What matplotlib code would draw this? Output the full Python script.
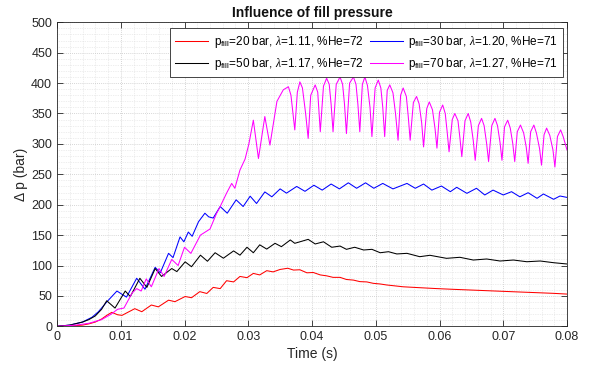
import matplotlib
matplotlib.use("Agg")
import matplotlib.pyplot as plt
from matplotlib.ticker import MultipleLocator

plt.rcParams['font.family'] = ['Liberation Sans', 'DejaVu Sans']
plt.rcParams['mathtext.fontset'] = 'custom'
plt.rcParams['mathtext.rm'] = 'Liberation Sans'
plt.rcParams['mathtext.it'] = 'Liberation Serif:italic'

title = "Influence of fill pressure"
xlabel = "Time (s)"
ylabel = "Δ p (bar)"
labels = [r"p$_{\mathrm{fill}}$=20 bar, $\it{\lambda}$=1.11, %He=72",
          r"p$_{\mathrm{fill}}$=30 bar, $\it{\lambda}$=1.20, %He=71",
          r"p$_{\mathrm{fill}}$=50 bar, $\it{\lambda}$=1.17, %He=72",
          r"p$_{\mathrm{fill}}$=70 bar, $\it{\lambda}$=1.27, %He=71"]

t_red = [0, .002, .004, .005, .006, .007, .0078, .0086, .0095, .0102,
         .0122, .0133, .0148, .0159, .0175, .0185, .0201, .0211, .0224, .0235,
         .0245, .0256, .0266, .0277, .0287, .0298, .0308, .0318, .0329, .0339,
         .0350, .0362, .0371, .0381, .0392, .0402, .0413, .0423, .0433, .0444,
         .0454, .0465, .0475, .0486, .0496, .0507, .0517, .0543, .0569, .0596,
         .0622, .0648, .0674, .0700, .0726, .0753, .0779, .0800]
v_red = [0, .5, 2, 4, 7, 12, 18, 23, 19, 18,
         29, 24, 35, 32, 43, 40.5, 49, 47, 57, 54,
         64, 62, 75, 73, 82, 80, 87, 84.5, 91.5, 89.5,
         93.5, 95.5, 92.5, 93, 88, 88.5, 84.5, 83, 80.5, 80.5,
         77, 76, 73.5, 73, 70.7, 69.6, 68, 65, 63.5, 62,
         60.8, 59.7, 58.6, 57.5, 56.4, 55.3, 54.2, 53]

t_blue = [0, .002, .004, .0055, .0065, .0078, .0094, .0109, .0125, .0138,
          .0154, .0162, .0175, .0182, .0193, .0199, .0206, .0212, .0222, .0232,
          .0238, .0245, .0256, .0267, .0281, .0292, .0303, .0313, .0326, .0337,
          .0350, .0360, .0376, .0389, .0403, .0416, .0430, .0443, .0457, .0470,
          .0484, .0497, .0511, .0527, .0549, .0562, .0575, .0588, .0603, .0617,
          .0627, .0643, .0658, .0671, .0684, .0700, .0713, .0726, .0739, .0753,
          .0763, .0779, .0789, .0800]
v_blue = [0, 2, 7, 15, 24, 40, 58, 48, 79, 61,
          97, 88, 120, 113, 147, 139, 155, 148, 172, 186,
          180, 178, 197, 186, 208, 197, 214, 202, 221, 213,
          226, 219, 230, 222, 232, 224, 234, 226, 236, 227,
          236, 227, 235, 226, 235, 227, 234, 224, 230.7, 221.4,
          228.6, 218.7, 227, 216, 224, 216, 221.4, 213, 219.7, 210.5,
          217.6, 208.9, 214.3, 212]

t_blk = [0, .002, .004, .005, .006, .007, .0078, .0091, .0107, .0115,
         .0130, .0141, .0154, .0164, .0180, .0188, .0201, .0211, .0225, .0236,
         .0248, .0261, .0277, .0287, .0298, .0308, .0318, .0329, .0342, .0352,
         .0366, .0373, .0394, .0405, .0418, .0431, .0444, .0454, .0467, .0481,
         .0494, .0507, .0520, .0533, .0549, .0569, .0585, .0611, .0632, .0653,
         .0674, .0695, .0716, .0737, .0758, .0779, .0800]
v_blk = [0, 2, 7, 11, 17, 28, 42, 30, 58, 49,
         79, 64, 95, 82, 95, 90, 106, 98, 117, 107,
         121, 112, 124, 117, 130, 121, 134, 127, 136.5, 131,
         142, 136.5, 143, 135.4, 139, 130, 132, 126.6, 130, 125.5,
         126.6, 121, 122.7, 119, 120, 114.5, 116.8, 111.8, 113.5, 109,
         110.7, 107.4, 109, 106.2, 107.4, 104.6, 102.5]

t_mag = [0, .003, .005, .007, .0085, .0095, .0105, .0118, .0125, .0132,
         .0140, .0148, .0160, .0168, .0180, .0190, .0200, .0210, .0225, .0240,
         .0250, .0256, .0266, .0274, .0279, .0287, .0295, .0301, .0308, .0316,
         .0326, .0334, .0345, .0355,
         .0360, .0363, .0367, .0373,
         .0377, .0381, .0385, .0390, .0394,
         .0398, .0405, .0409, .0413,
         .0418, .0423, .0427, .0430, .0433,
         .0438, .0444, .0448, .0451, .0454,
         .0459, .0465, .0469, .0472, .0475,
         .0479, .0483, .0487, .0491, .0494,
         .0499, .0504, .0508, .0511, .0514,
         .0518, .0522, .0527, .0531, .0535,
         .0539, .0543, .0548, .0551, .0554,
         .0559, .0564, .0568, .0572, .0575,
         .0580, .0584, .0589, .0593, .0596,
         .0600, .0605, .0609, .0612, .0615,
         .0620, .0624, .0629, .0632, .0635,
         .0640, .0645, .0649, .0653, .0656,
         .0661, .0666, .0670, .0674, .0677,
         .0682, .0687, .0691, .0695, .0698,
         .0702, .0707, .0711, .0715, .0718,
         .0722, .0727, .0732, .0736, .0739,
         .0743, .0748, .0752, .0757, .0760,
         .0764, .0768, .0773, .0778, .0781,
         .0785, .0790, .0794, .0800]
v_mag = [0, 2, 5, 11, 20, 28, 30, 55, 62, 58,
         78, 65, 95, 82, 110, 100, 130, 120, 150, 160,
         185, 197, 219, 235, 227, 257, 275, 300, 339, 276,
         345, 298, 370, 389,
         392, 394, 380, 323,
         385, 402, 392, 350, 309,
         380, 397, 385, 320,
         395, 408, 398, 365, 320,
         398, 410, 398, 365, 317,
         400, 410, 398, 365, 320,
         398, 410, 396, 360, 312,
         392, 405, 392, 360, 312,
         388, 397, 384, 350, 306,
         380, 392, 378, 345, 306,
         368, 378, 366, 335, 295,
         358, 369, 356, 325, 293,
         352, 364, 350, 320, 287,
         340, 350, 338, 310, 279,
         338, 350, 336, 305, 273,
         330, 342, 330, 300, 271,
         330, 342, 330, 302, 273,
         328, 339, 326, 300, 271,
         320, 331, 318, 295, 268,
         320, 331, 318, 292, 265,
         315, 326, 314, 290, 262,
         312, 323, 312, 290]

fig = plt.figure(figsize=(6.0, 3.69), dpi=100)
ax = fig.add_axes([0.095, 0.1157, 0.85, 0.8239])

lw = 0.75
h_red, = ax.plot(t_red, v_red, color=(1, 0, 0), lw=lw)
h_blue, = ax.plot(t_blue, v_blue, color=(0, 0, 1), lw=lw)
h_blk, = ax.plot(t_blk, v_blk, color=(0, 0, 0), lw=lw)
h_mag, = ax.plot(t_mag, v_mag, color=(1, 0, 1), lw=lw)

ax.set_xlim(0, 0.08)
ax.set_ylim(0, 500)
ax.xaxis.set_major_locator(MultipleLocator(0.01))
ax.xaxis.set_minor_locator(MultipleLocator(0.002))
ax.yaxis.set_major_locator(MultipleLocator(50))
ax.yaxis.set_minor_locator(MultipleLocator(10))
ax.set_xticklabels([f"{v:g}" for v in ax.get_xticks()])
ax.grid(True, which='major', color='#c8c8c8', linestyle=(0, (1, 1.5)), lw=0.6)
ax.grid(True, which='minor', color='#dedede', linestyle=(0, (1, 1.5)), lw=0.5)
ax.tick_params(which='major', direction='in', length=4, top=True, right=True,
               labelsize=9, color='#262626', labelcolor='#262626', width=0.6)
ax.tick_params(which='minor', length=0, top=True, right=True)
for s in ax.spines.values():
    s.set_color('#262626')
    s.set_linewidth(0.6)

ax.set_title(title, fontsize=10, fontweight='bold', pad=4, color='#111111')
ax.set_xlabel(xlabel, fontsize=10, color='#262626', labelpad=3)
ax.set_ylabel(ylabel, fontsize=10, color='#262626', labelpad=2)

leg = ax.legend([h_red, h_blk, h_blue, h_mag], [labels[0], labels[2], labels[1], labels[3]],
                ncol=2, loc='upper right', bbox_to_anchor=(0.992, 0.98),
                fontsize=8.5, frameon=True, fancybox=False, framealpha=1,
                edgecolor='#262626', handlelength=2.8, handletextpad=0.45,
                columnspacing=0.55, borderpad=0.45, labelspacing=0.55, borderaxespad=0)
leg.get_frame().set_linewidth(0.6)

fig.savefig("out.png", dpi=100)
